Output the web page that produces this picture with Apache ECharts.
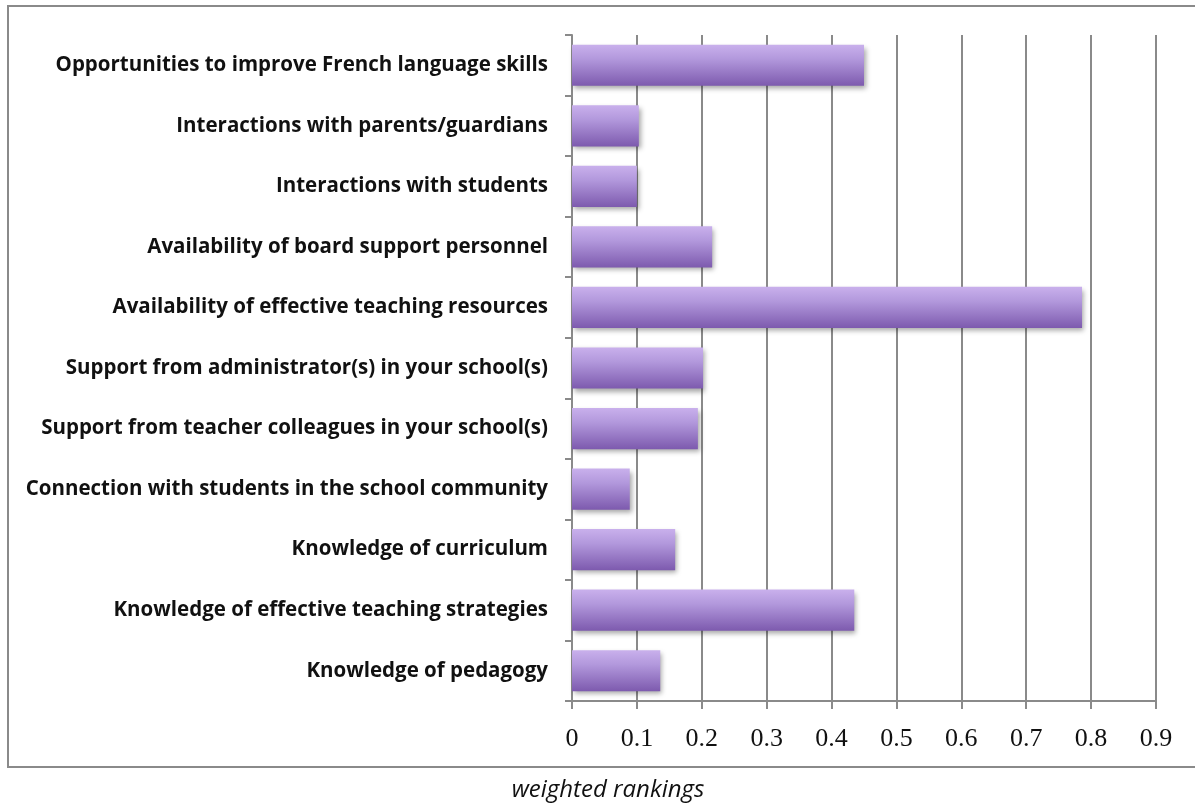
<!DOCTYPE html>
<html>
<head>
<meta charset="utf-8">
<script src="https://cdn.jsdelivr.net/npm/echarts@6/dist/echarts.min.js"></script>
<style>
  html, body { margin: 0; padding: 0; background: #fff; }
  #chart { width: 1195px; height: 806px; }
</style>
</head>
<body>
<div id="chart"></div>
<script>
// Factors, listed from top to bottom
const categories = [
  'Opportunities to improve French language skills',
  'Interactions with parents/guardians',
  'Interactions with students',
  'Availability of board support personnel',
  'Availability of effective teaching resources',
  'Support from administrator(s) in your school(s)',
  'Support from teacher colleagues in your school(s)',
  'Connection with students in the school community',
  'Knowledge of curriculum',
  'Knowledge of effective teaching strategies',
  'Knowledge of pedagogy'
];
const weightedRankings = [0.450, 0.103, 0.100, 0.216, 0.786, 0.202, 0.194, 0.089, 0.159, 0.435, 0.136];
const xTicks = { min: 0, max: 0.9, interval: 0.1 };
const xAxisTitle = 'weighted rankings';

const chart = echarts.init(document.getElementById('chart'), null, { renderer: 'canvas' });

const barFill = new echarts.graphic.LinearGradient(0, 0, 0, 1, [
  { offset: 0, color: '#c9b0ec' },
  { offset: 0.35, color: '#b298dc' },
  { offset: 1, color: '#7d5aae' }
]);

chart.setOption({
  animation: false,
  grid: { left: 572, top: 35, right: 39, bottom: 105, containLabel: false },
  graphic: [
    {
      type: 'rect',
      shape: { x: 8, y: 6, width: 1200, height: 761 },
      style: { fill: 'none', stroke: '#8a8a8a', lineWidth: 2 },
      silent: true,
      z: -1
    },
    {
      type: 'text',
      x: 608,
      y: 790,
      style: {
        text: xAxisTitle,
        font: 'italic 24px "Open Sans", sans-serif',
        fill: '#111',
        align: 'center',
        verticalAlign: 'middle'
      }
    }
  ],
  xAxis: {
    type: 'value',
    min: xTicks.min,
    max: xTicks.max,
    interval: xTicks.interval,
    axisLine: { show: true, lineStyle: { color: '#8a8a8a', width: 2 } },
    axisTick: { show: true, length: 8, lineStyle: { color: '#8a8a8a', width: 2 } },
    splitLine: { show: true, lineStyle: { color: '#8a8a8a', width: 2 } },
    axisLabel: {
      margin: 25,
      color: '#111',
      fontFamily: '"Liberation Serif", "DejaVu Serif", serif',
      fontSize: 26,
      formatter: v => String(Math.round(v * 10) / 10)
    }
  },
  yAxis: {
    type: 'category',
    data: categories,
    inverse: true,
    axisLine: { show: true, lineStyle: { color: '#8a8a8a', width: 2 } },
    axisTick: { show: true, length: 7, lineStyle: { color: '#8a8a8a', width: 2 } },
    axisLabel: {
      margin: 24,
      color: '#111',
      fontWeight: 'bold',
      fontFamily: '"Open Sans", Lato, sans-serif',
      fontSize: 20.5
    },
    splitLine: { show: false }
  },
  series: [{
    type: 'bar',
    data: weightedRankings,
    barCategoryGap: '32%',
    itemStyle: {
      color: barFill,
      shadowColor: 'rgba(0,0,0,0.35)',
      shadowBlur: 5,
      shadowOffsetX: 2,
      shadowOffsetY: 3
    }
  }]
});
</script>
</body>
</html>
